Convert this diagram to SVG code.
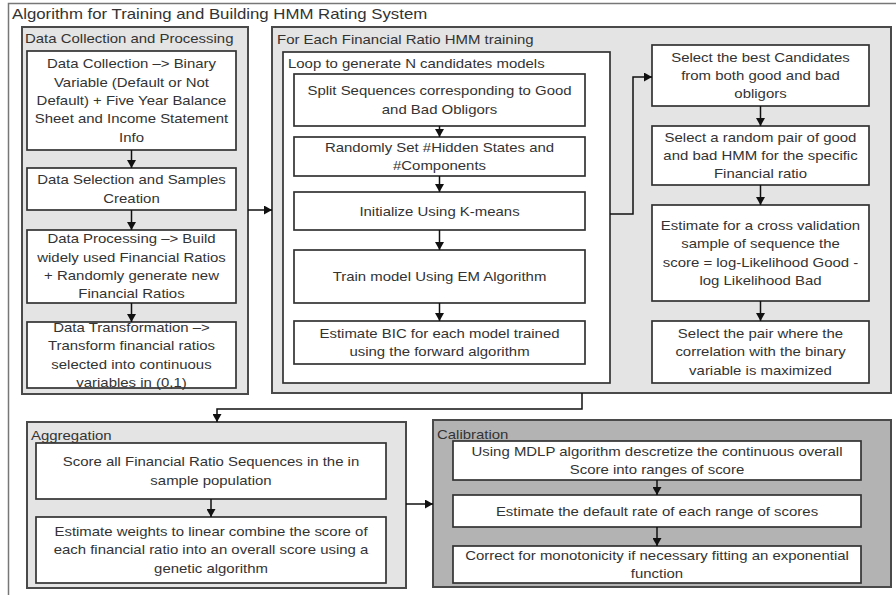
<svg xmlns="http://www.w3.org/2000/svg" width="896" height="595" viewBox="0 0 896 595">
<defs>
<style>
.t{font-family:"Liberation Sans",Arial,sans-serif;font-size:13px;fill:#333}
.c{text-anchor:middle}
.panel{fill:#e4e4e4;stroke:#4a4a4a;stroke-width:2}
.dark{fill:#b3b3b3}
.box{fill:#fff;stroke:#333;stroke-width:1.7}
.con{fill:none;stroke:#111;stroke-width:1.5}
.arr{fill:none;stroke:#111;stroke-width:1.5;marker-end:url(#ah)}
</style>
<marker id="ah" markerUnits="userSpaceOnUse" markerWidth="9" markerHeight="9" refX="8" refY="4.5" orient="auto">
<path d="M0,0 L8,4.5 L0,9 z" fill="#111"/>
</marker>
</defs>
<rect x="0" y="0" width="896" height="595" fill="#fff"/>
<rect x="8.5" y="3.5" width="892" height="596" fill="#fff" stroke="#777" stroke-width="1.5"/>
<text class="t" style="font-size:14px" transform="translate(12,18.8) scale(1.2,1)">Algorithm for Training and Building HMM Rating System</text>

<g id="panel-data">
<rect class="panel" x="22" y="27" width="226" height="367"/>
<text class="t" transform="translate(25,42.8) scale(1.15,1)">Data Collection and Processing</text>
</g>
<g id="data-collection">
<rect class="box" x="27" y="51" width="209" height="99"/>
<text class="t c" transform="translate(131.5,0) scale(1.15,1)"><tspan x="0" y="68.4">Data Collection –&gt; Binary</tspan><tspan x="0" y="86.7">Variable (Default or Not</tspan><tspan x="0" y="105">Default) + Five Year Balance</tspan><tspan x="0" y="123.3">Sheet and Income Statement</tspan><tspan x="0" y="141.6">Info</tspan></text>
</g>
<g id="data-selection">
<rect class="box" x="27" y="168" width="209" height="42"/>
<text class="t c" transform="translate(131.5,0) scale(1.15,1)"><tspan x="0" y="184.3">Data Selection and Samples</tspan><tspan x="0" y="202.6">Creation</tspan></text>
</g>
<g id="data-processing">
<rect class="box" x="27" y="230" width="209" height="73"/>
<text class="t c" transform="translate(131.5,0) scale(1.15,1)"><tspan x="0" y="243.5">Data Processing –&gt; Build</tspan><tspan x="0" y="261.8">widely used Financial Ratios</tspan><tspan x="0" y="280.1">+ Randomly generate new</tspan><tspan x="0" y="298.4">Financial Ratios</tspan></text>
</g>
<g id="data-transformation">
<rect class="box" x="27" y="322" width="209" height="66"/>
<text class="t c" transform="translate(131.5,0) scale(1.15,1)"><tspan x="0" y="332">Data Transformation –&gt;</tspan><tspan x="0" y="350.3">Transform financial ratios</tspan><tspan x="0" y="368.6">selected into continuous</tspan><tspan x="0" y="386.9">variables in (0,1)</tspan></text>
</g>

<g id="panel-hmm">
<rect class="panel" x="272" y="27" width="619" height="366"/>
<text class="t" transform="translate(277,43.5) scale(1.15,1)">For Each Financial Ratio HMM training</text>
</g>
<g id="loop">
<rect class="box" x="283" y="52" width="327" height="331" stroke-width="2"/>
<text class="t" transform="translate(288,67.6) scale(1.15,1)">Loop to generate N candidates models</text>
</g>
<g id="split">
<rect class="box" x="294" y="74" width="291" height="52"/>
<text class="t c" transform="translate(439.5,0) scale(1.15,1)"><tspan x="0" y="95.3">Split Sequences corresponding to Good</tspan><tspan x="0" y="113.6">and Bad Obligors</tspan></text>
</g>
<g id="random-set">
<rect class="box" x="294" y="137" width="291" height="39"/>
<text class="t c" transform="translate(439.5,0) scale(1.15,1)"><tspan x="0" y="151.8">Randomly Set #Hidden States and</tspan><tspan x="0" y="170.1">#Components</tspan></text>
</g>
<g id="kmeans">
<rect class="box" x="294" y="192" width="291" height="38"/>
<text class="t c" transform="translate(439.5,215.5) scale(1.15,1)">Initialize Using K-means</text>
</g>
<g id="em">
<rect class="box" x="294" y="250" width="291" height="53"/>
<text class="t c" transform="translate(439.5,281) scale(1.15,1)">Train model Using EM Algorithm</text>
</g>
<g id="bic">
<rect class="box" x="294" y="321" width="291" height="43"/>
<text class="t c" transform="translate(439.5,0) scale(1.15,1)"><tspan x="0" y="337.8">Estimate BIC for each model trained</tspan><tspan x="0" y="356.1">using the forward algorithm</tspan></text>
</g>
<g id="best">
<rect class="box" x="652" y="45" width="217" height="61"/>
<text class="t c" transform="translate(760.5,0) scale(1.15,1)"><tspan x="0" y="61.7">Select the best Candidates</tspan><tspan x="0" y="80">from both good and bad</tspan><tspan x="0" y="98.3">obligors</tspan></text>
</g>
<g id="pair">
<rect class="box" x="652" y="126" width="217" height="59"/>
<text class="t c" transform="translate(760.5,0) scale(1.15,1)"><tspan x="0" y="141.7">Select a random pair of good</tspan><tspan x="0" y="160">and bad HMM for the specific</tspan><tspan x="0" y="178.3">Financial ratio</tspan></text>
</g>
<g id="cross">
<rect class="box" x="652" y="205" width="217" height="96"/>
<text class="t c" transform="translate(760.5,0) scale(1.15,1)"><tspan x="0" y="230">Estimate for a cross validation</tspan><tspan x="0" y="248.3">sample of sequence the</tspan><tspan x="0" y="266.6">score = log-Likelihood Good -</tspan><tspan x="0" y="284.9">log Likelihood Bad</tspan></text>
</g>
<g id="select-pair">
<rect class="box" x="652" y="321" width="217" height="62"/>
<text class="t c" transform="translate(760.5,0) scale(1.15,1)"><tspan x="0" y="338.2">Select the pair where the</tspan><tspan x="0" y="356.5">correlation with the binary</tspan><tspan x="0" y="374.8">variable is maximized</tspan></text>
</g>

<g id="panel-aggregation">
<rect class="panel" x="27" y="422" width="379" height="166"/>
<text class="t" transform="translate(31,439.5) scale(1.15,1)">Aggregation</text>
</g>
<g id="score-all">
<rect class="box" x="36" y="443" width="350" height="56"/>
<text class="t c" transform="translate(211,0) scale(1.15,1)"><tspan x="0" y="466.3">Score all Financial Ratio Sequences in the in</tspan><tspan x="0" y="484.6">sample population</tspan></text>
</g>
<g id="weights">
<rect class="box" x="36" y="517" width="350" height="66"/>
<text class="t c" transform="translate(211,0) scale(1.15,1)"><tspan x="0" y="536.2">Estimate weights to linear combine the score of</tspan><tspan x="0" y="554.5">each financial ratio into an overall score using a</tspan><tspan x="0" y="572.8">genetic algorithm</tspan></text>
</g>

<g id="panel-calibration">
<rect class="panel dark" x="433" y="420" width="458" height="167"/>
<text class="t" transform="translate(437,438.5) scale(1.15,1)">Calibration</text>
</g>
<g id="mdlp">
<rect class="box" x="453" y="441" width="408" height="39"/>
<text class="t c" transform="translate(657,0) scale(1.15,1)"><tspan x="0" y="455.9">Using MDLP algorithm descretize the continuous overall</tspan><tspan x="0" y="474.2">Score into ranges of score</tspan></text>
</g>
<g id="default-rate">
<rect class="box" x="453" y="495" width="408" height="32"/>
<text class="t c" transform="translate(657,515.5) scale(1.15,1)">Estimate the default rate of each range of scores</text>
</g>
<g id="monotonicity">
<rect class="box" x="453" y="546" width="408" height="37"/>
<text class="t c" transform="translate(657,0) scale(1.15,1)"><tspan x="0" y="559.8">Correct for monotonicity if necessary fitting an exponential</tspan><tspan x="0" y="578.1">function</tspan></text>
</g>

<g id="connectors">
<path class="arr" d="M131.5,150 V168"/>
<path class="arr" d="M131.5,210 V230"/>
<path class="arr" d="M131.5,303 V322"/>
<path class="arr" d="M439.5,126 V137"/>
<path class="arr" d="M439.5,176 V192"/>
<path class="arr" d="M439.5,230 V250"/>
<path class="arr" d="M439.5,303 V321"/>
<path class="arr" d="M760.5,106 V126"/>
<path class="arr" d="M760.5,185 V205"/>
<path class="arr" d="M760.5,301 V321"/>
<path class="arr" d="M211,499 V517"/>
<path class="arr" d="M657,480 V495"/>
<path class="arr" d="M657,527 V546"/>
<path class="arr" d="M248,210 H272"/>
<path class="arr" d="M610,214 H633 V77 H652"/>
<path class="arr" d="M582,393 V409 H217 V422"/>
<path class="arr" d="M406,504 H433"/>
</g>
</svg>
